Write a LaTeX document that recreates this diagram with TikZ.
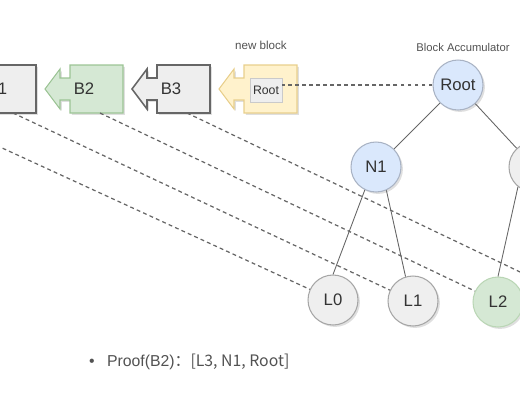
\documentclass[tikz,border=0pt]{standalone}
\usepackage{fontspec}
\setmainfont{Liberation Sans}
\newfontfamily\cjk{Noto Sans CJK SC}
\usetikzlibrary{shadows}
\definecolor{blkgray}{HTML}{EEEEEE}
\definecolor{blkline}{HTML}{666666}
\definecolor{blkgreen}{HTML}{D5E8D4}
\definecolor{greenline}{HTML}{9CC495}
\definecolor{blkyellow}{HTML}{FFF2CC}
\definecolor{yellowline}{HTML}{E8CF8C}
\definecolor{accblue}{HTML}{DAE8FC}
\definecolor{accline}{HTML}{A9B3C4}
\definecolor{leafgray}{HTML}{EFEFEF}
\definecolor{leafline}{HTML}{A6A6A6}
\definecolor{txt}{HTML}{333333}
\begin{document}
\begin{tikzpicture}[x=0.02cm, y=-0.02cm, text=txt,
  softshadow/.style={drop shadow={opacity=0.25, shadow xshift=1.1pt, shadow yshift=-1.1pt}},
  hashnode/.style={circle, draw=accline, fill=accblue, line width=0.6pt, minimum size=1cm, inner sep=0pt, font=\fontsize{9.5}{11}\selectfont, softshadow},
  leaf/.style={hashnode, draw=leafline, fill=leafgray},
  treeedge/.style={draw=blkline, line width=0.5pt},
  proofline/.style={draw=blkline, line width=0.7pt, dash pattern=on 2.2pt off 1.8pt}]
  \useasboundingbox (0,0) rectangle (520,400);
  \clip (0,0) rectangle (520,400);
  % chain of blocks, each pointing back to its parent
  \foreach \t/\f/\d/\w in {-129/blkgray/blkline/0.9pt, -42/blkgray/blkline/0.9pt, 45/blkgreen/greenline/0.6pt, 132/blkgray/blkline/0.9pt, 219/blkyellow/yellowline/0.6pt}
    \draw[fill=\f, draw=\d, line width=\w, softshadow] (\t,89) -- (\t+15,69) -- (\t+15,78) -- (\t+25,78) -- (\t+25,65) -- (\t+78,65) -- (\t+78,113) -- (\t+25,113) -- (\t+25,100) -- (\t+15,100) -- (\t+15,109) -- cycle;
  \foreach \i in {1,...,3}
    \node[font=\fontsize{9.5}{11}\selectfont] (B\i) at ({87*\i-90}, 89) {B\i};
  \foreach \i in {0,...,3}
    \coordinate (b\i) at ({87*\i-74}, 113);
  \node[draw=leafline!60, fill=blkgray, line width=0.4pt, minimum width=0.64cm, minimum height=0.48cm, inner sep=0pt, font=\fontsize{7}{8}\selectfont] (nbroot) at (266,90) {Root};
  \node[font=\fontsize{6.6}{8}\selectfont, text=txt!85] (newlbl) at (261,45) {new block};
  \node[font=\fontsize{6.4}{8}\selectfont, text=txt!85] (acclbl) at (463,47) {Block Accumulator};

  % accumulator tree
  \node[hashnode] (root) at (458,85) {Root};
  \node[hashnode] (n1) at (376,167) {N1};
  \node[leaf] (n2) at (534,167) {};
  \node[leaf] (l0) at (333,300) {L0};
  \node[leaf] (l1) at (413,301) {L1};
  \node[leaf, fill=blkgreen, draw=greenline!70] (l2) at (498,302) {L2};
  \coordinate (l3) at (583,302);
  \draw[treeedge] (root) -- (n1);
  \draw[treeedge] (root) -- (n2);
  \draw[treeedge] (n1.244) -- (l0.north);
  \draw[treeedge] (n1.294) -- (l1.107);
  \draw[treeedge] (n2.231) -- (l2.north);

  % leaves back to their blocks
  \draw[proofline] (root.west) -- (root.west -| nbroot.east);
  \foreach \i in {0,...,3}
    \draw[proofline] (b\i) -- (l\i);

  \node[anchor=west, font=\fontsize{9}{11}\selectfont, text=txt!85] (proof) at (83,362) {\textbullet\hspace{7pt}Proof(B2)\cjk{：}[L3,\ N1,\ Root]};
\end{tikzpicture}
\end{document}
